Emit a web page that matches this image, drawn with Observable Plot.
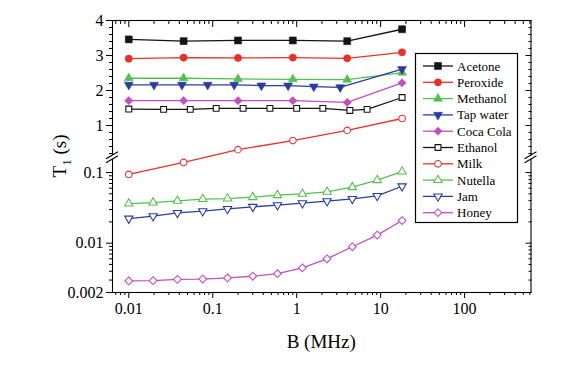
<!DOCTYPE html>
<html><head><meta charset="utf-8">
<script src="https://cdn.jsdelivr.net/npm/d3@7"></script>
<script src="https://cdn.jsdelivr.net/npm/@observablehq/plot@0.6"></script>
<style>
body{margin:0;background:#fff}
#chart{position:relative;width:572px;height:370px}
svg{font-family:"Liberation Serif","Times New Roman",serif}
</style>
</head><body><div id="chart"></div>
<script>
// ---- data (B in MHz, T1 in s) ----
const names = ["Acetone","Peroxide","Methanol","Tap water","Coca Cola","Ethanol","Milk","Nutella","Jam","Honey"];
const bCoarse = [0.01, 0.045, 0.2, 0.9, 4, 18];
const bTap = [0.01, 0.02, 0.043, 0.087, 0.18, 0.38, 0.79, 1.6, 3.3, 18];
const bEthanol = [0.01, 0.026, 0.054, 0.11, 0.23, 0.48, 1, 2.05, 4.3, 6.9, 18];
const bFine = [0.01, 0.0195, 0.038, 0.076, 0.15, 0.30, 0.59, 1.17, 2.3, 4.6, 9.1, 18];
const acetone = [3.46, 3.41, 3.43, 3.43, 3.41, 3.75];
const peroxide = [2.91, 2.94, 2.93, 2.94, 2.92, 3.09];
const methanol = [2.35, 2.35, 2.33, 2.32, 2.31, 2.51];
const tapWater = [2.16, 2.16, 2.16, 2.16, 2.16, 2.14, 2.14, 2.11, 2.09, 2.61];
const cocaCola = [1.71, 1.71, 1.71, 1.71, 1.66, 2.22];
const ethanol = [1.47, 1.46, 1.46, 1.49, 1.49, 1.49, 1.49, 1.49, 1.43, 1.46, 1.80];
const milk = [0.094, 0.139, 0.31, 0.57, 0.86, 1.2];
const nutella = [0.0364, 0.0376, 0.0397, 0.042, 0.0428, 0.0448, 0.0478, 0.050, 0.0533, 0.062, 0.078, 0.103];
const jam = [0.0223, 0.0241, 0.0268, 0.0284, 0.0306, 0.0327, 0.0345, 0.0368, 0.0393, 0.0424, 0.0467, 0.064];
const honey = [0.00292, 0.00294, 0.00306, 0.0031, 0.00322, 0.0034, 0.0037, 0.00447, 0.0060, 0.0089, 0.013, 0.0209];
const xTicks = [0.01, 0.1, 1, 10, 100];
const yTicksLow = [0.002, 0.01, 0.1];
const yTicksHigh = [1, 2, 3, 4];

// ---- styles ----
const triDown = {draw(ctx, size){ const y = -Math.sqrt(size/(3*Math.sqrt(3))); ctx.moveTo(0,-2*y); ctx.lineTo(-Math.sqrt(3)*y, y); ctx.lineTo(Math.sqrt(3)*y, y); ctx.closePath(); }};
const C = {k:"#141414", r:"#e8302a", g:"#55c04f", b:"#2a3d9e", m:"#c04fc0"};
const styles = [
 {c:C.k, sym:d3.symbolSquare, r:3.9, open:false},
 {c:C.r, sym:d3.symbolCircle, r:3.6, open:false},
 {c:C.g, sym:d3.symbolTriangle, r:3.3, open:false},
 {c:C.b, sym:triDown, r:3.3, open:false},
 {c:C.m, sym:d3.symbolDiamond2, r:3.7, open:false},
 {c:C.k, sym:d3.symbolSquare, r:3.3, open:true},
 {c:C.r, sym:d3.symbolCircle, r:3.3, open:true},
 {c:C.g, sym:d3.symbolTriangle, r:3.1, open:true},
 {c:C.b, sym:triDown, r:3.1, open:true},
 {c:C.m, sym:d3.symbolDiamond2, r:3.5, open:true}
];
const xs = [bCoarse,bCoarse,bCoarse,bTap,bCoarse,bEthanol,bCoarse,bFine,bFine,bFine];
const ys = [acetone,peroxide,methanol,tapWater,cocaCola,ethanol,milk,nutella,jam,honey];

// ---- broken y axis: log (0.002..0.15) below, linear (0.15..4) above ----
const BREAK = 0.15, DEC = 70.6, UNIT = 35, TOP = 272;
const warp = v => v > BREAK ? TOP - (4 - v) * UNIT : (Math.log10(v) - Math.log10(0.002)) * DEC;

const rows = [];
names.forEach((n, i) => xs[i].forEach((b, j) => rows.push({name: n, i, b, v: ys[i][j], u: warp(ys[i][j])})));

const xMinor = [];
for (let e = -3; e <= 2; e++) for (let k = 2; k <= 9; k++) { const v = k * 10 ** e; if (v > 0.0064 && v < 618) xMinor.push(+v.toPrecision(3)); }
const yMinorLow = [], yMinorHigh = [];
for (const e of [-3, -2]) for (let k = 2; k <= 9; k++) { const v = k * 10 ** e; if (v > 0.002 && v < BREAK) yMinorLow.push(v); }
for (let v = 0.2; v < 4; v += 0.2) { const w = +v.toFixed(1); if (w % 1 !== 0) yMinorHigh.push(w); }
const yMajor = [...yTicksLow, ...yTicksHigh];
const yMinor = [...yMinorLow, ...yMinorHigh];
const lab = new Map(yMajor.map(v => [warp(v), String(v)]));

const font = {fontSize: 16, fontFamily: "Liberation Serif"};
const empty = () => "";
const marks = [
 Plot.frame({stroke: "#000", strokeWidth: 1.1}),
 // bottom axis (outward)
 Plot.axisX(xTicks, {anchor: "bottom", tickSize: 6, tickPadding: 4, tickFormat: d => String(d), label: null, ...font}),
 Plot.axisX(xMinor, {anchor: "bottom", tickSize: 3, tickFormat: empty, label: null}),
 // top axis (inward)
 Plot.axisX(xTicks, {anchor: "top", tickSize: 6, dy: 6, tickFormat: empty, label: null}),
 Plot.axisX(xMinor, {anchor: "top", tickSize: 3, dy: 3, tickFormat: empty, label: null}),
 // left axis (outward)
 Plot.axisY(yMajor.map(warp), {anchor: "left", tickSize: 6, tickPadding: 3, tickFormat: d => lab.get(d), label: null, ...font}),
 Plot.axisY(yMinor.map(warp), {anchor: "left", tickSize: 3, tickFormat: empty, label: null}),
 // right axis (inward)
 Plot.axisY(yMajor.map(warp), {anchor: "right", tickSize: 6, dx: -6, tickFormat: empty, label: null}),
 Plot.axisY(yMinor.map(warp), {anchor: "right", tickSize: 3, dx: -3, tickFormat: empty, label: null})
];
names.forEach((n, i) => {
 const s = styles[i];
 const d = rows.filter(r => r.i === i);
 marks.push(Plot.line(d, {x: "b", y: "u", stroke: s.c, strokeWidth: 1.3}));
 marks.push(Plot.dot(d, {x: "b", y: "u", symbol: () => s.sym, r: s.r, fill: s.open ? "#fff" : s.c, stroke: s.c, strokeWidth: s.open ? 1.1 : 0.6}));
});

const W = 572, H = 370, ML = 112, MR = 41.5, MT = 20, MB = 78;
const chart = Plot.plot({
 width: W, height: H, marginLeft: ML, marginRight: MR, marginTop: MT, marginBottom: MB,
 style: {fontFamily: "Liberation Serif", background: "#fff", overflow: "visible"},
 x: {type: "log", domain: [0.0064, 618], label: null},
 y: {type: "linear", domain: [0, TOP], label: null},
 symbol: {type: "identity"},
 marks
});
document.getElementById("chart").appendChild(chart);

// ---- decorations: axis break marks, titles, legend ----
const svg = d3.select(chart);
const yb = MT + (TOP - (warp(BREAK) + (TOP - (4 - BREAK) * UNIT)) / 2); // centre of break gap
for (const x0 of [ML, W - MR]) {
 const g = svg.append("g").attr("stroke", "#000").attr("stroke-width", 1.1);
 g.append("polygon").attr("points", `${x0-6},${yb+1.5} ${x0+6},${yb-5.5} ${x0+6},${yb-1.5} ${x0-6},${yb+5.5}`).attr("fill", "#fff").attr("stroke", "none");
 g.append("line").attr("x1", x0-6).attr("y1", yb+1.5).attr("x2", x0+6).attr("y2", yb-5.5);
 g.append("line").attr("x1", x0-6).attr("y1", yb+5.5).attr("x2", x0+6).attr("y2", yb-1.5);
}
svg.append("text").attr("x", ML + (W - MR - ML) / 2).attr("y", 348).attr("text-anchor", "middle")
 .attr("font-size", 19).attr("font-family", "Liberation Serif").text("B (MHz)");
const yt = svg.append("text").attr("transform", `translate(66,${MT + TOP/2}) rotate(-90)`).attr("text-anchor", "middle")
 .attr("font-size", 19).attr("font-family", "Liberation Serif");
yt.append("tspan").text("T");
yt.append("tspan").attr("font-size", 13).attr("dy", 5).text("1");
yt.append("tspan").attr("dy", -5).text(" (s)");

const lg = svg.append("g").attr("text-anchor", "start");
lg.append("rect").attr("x", 415.5).attr("y", 53.5).attr("width", 102).attr("height", 169)
 .attr("fill", "#fff").attr("stroke", "#000").attr("stroke-width", 1.2);
names.forEach((n, i) => {
 const s = styles[i], y = 66 + i * 16.3;
 lg.append("line").attr("x1", 423).attr("x2", 453).attr("y1", y).attr("y2", y).attr("stroke", s.c).attr("stroke-width", 1.3);
 lg.append("path").attr("transform", `translate(438,${y})`).attr("d", d3.symbol(s.sym, s.r * s.r * Math.PI)())
  .attr("fill", s.open ? "#fff" : s.c).attr("stroke", s.c).attr("stroke-width", s.open ? 1.1 : 0.6);
 lg.append("text").attr("x", 457).attr("y", y).attr("dy", "0.35em").attr("text-anchor", "start").attr("font-size", 13)
  .attr("font-family", "Liberation Serif").text(n);
});
</script>
</body></html>
